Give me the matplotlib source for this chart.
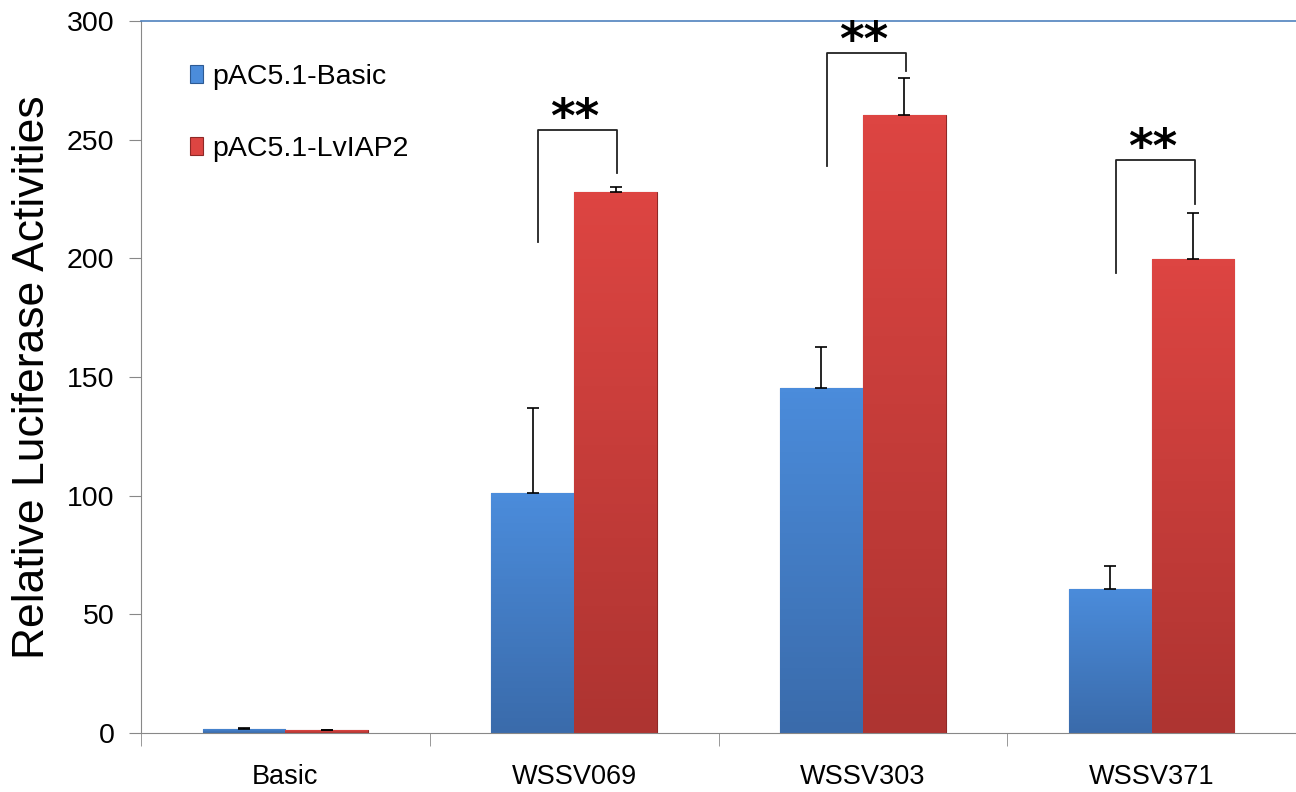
import numpy as np
import matplotlib.pyplot as plt
import matplotlib.colors as mcolors

plt.rcParams['font.family'] = ['Liberation Sans', 'DejaVu Sans']

# ======================= DONNEES =======================
categories = ["Basic", "WSSV069", "WSSV303", "WSSV371"]
basic_vals = [1.8, 101, 145.5, 60.7]
basic_err = [0.3, 36, 17, 9.7]
iap2_vals = [1.2, 228, 260.5, 199.7]
iap2_err = [0.2, 2, 15.5, 19.5]
series_names = ["pAC5.1-Basic", "pAC5.1-LvIAP2"]

# significance brackets: category index, left foot, right foot, top
sig_idx = [1, 2, 3]
sig_left = [207, 239, 194]
sig_right = [236, 279, 223]
sig_top = [254, 286.5, 241.5]

BLUE = ["#4b8cdb", "#3a6bab"]
RED = ["#dd4542", "#ae3431"]


def remplir_degrade(ax, bar, c_top, c_bot):
    # vertical gradient inside the bar, clipped to the rectangle
    x, y = bar.get_x(), bar.get_y()
    w, h = bar.get_width(), bar.get_height()
    cmap = mcolors.LinearSegmentedColormap.from_list("g", [c_bot, c_top])
    grad = np.linspace(0, 1, 64).reshape(-1, 1)
    im = ax.imshow(grad, cmap=cmap, aspect="auto", origin="lower",
                   extent=(x, x + w, y, y + h), zorder=bar.get_zorder())
    im.set_clip_path(bar)


fig = plt.figure(figsize=(12.96, 7.92), dpi=100)
ax = fig.add_axes([0.1088, 0.0745, 0.8912, 0.899])

x = np.arange(len(categories))
w = 0.287
b1 = ax.bar(x - w / 2, basic_vals, w, color=BLUE[0], edgecolor="#2d5a93",
            linewidth=0.8, zorder=2, label=series_names[0])
b2 = ax.bar(x + w / 2, iap2_vals, w, color=RED[0], edgecolor="#8e2826",
            linewidth=0.8, zorder=2, label=series_names[1])
for bar in b1:
    remplir_degrade(ax, bar, BLUE[0], BLUE[1])
for bar in b2:
    remplir_degrade(ax, bar, RED[0], RED[1])

ax.errorbar(x - w / 2, basic_vals, yerr=[np.zeros(4), basic_err], fmt="none",
            ecolor="black", elinewidth=1.2, capsize=4, capthick=1.2, zorder=3)
ax.errorbar(x + w / 2, iap2_vals, yerr=[np.zeros(4), iap2_err], fmt="none",
            ecolor="black", elinewidth=1.2, capsize=4, capthick=1.2, zorder=3)

for i, yl, yr, yt in zip(sig_idx, sig_left, sig_right, sig_top):
    xl = i - w / 2 + 0.02
    xr = i + w / 2 + 0.005
    ax.plot([xl, xl, xr, xr], [yl, yt, yt, yr], color="#222222", lw=1.3, zorder=3)
    ax.text((xl + xr) / 2 - 0.01, yt + 4.5, "**", ha="center", va="center",
            fontsize=34, fontweight="bold", color="black",
            family=["DejaVu Sans"])

ax.set_xlim(-0.5, 3.5)
ax.set_ylim(0, 300)
ax.set_yticks(range(0, 301, 50))
ax.set_xticks(x)
ax.set_xticklabels(categories, fontsize=19.5)
ax.set_xticks(np.arange(-0.5, 4.0, 1), minor=True)
ax.tick_params(axis="x", which="major", length=0, pad=22)
ax.tick_params(axis="x", which="minor", length=9, color="#888888", direction="out")
ax.tick_params(axis="y", labelsize=20.5, length=9, color="#888888", pad=10)

for s in ["left", "bottom"]:
    ax.spines[s].set_color("#888888")
ax.spines["right"].set_visible(False)
ax.spines["top"].set_color("#4f81bd")
ax.spines["top"].set_linewidth(1.2)

ax.set_ylabel("Relative Luciferase Activities", fontsize=32, labelpad=10)

ax.legend(loc="upper left", bbox_to_anchor=(0.02, 0.975), frameon=False,
          fontsize=20.5, handlelength=0.45, handleheight=0.6, labelspacing=1.6,
          handletextpad=0.35)

fig.savefig("out.png", dpi=100)
